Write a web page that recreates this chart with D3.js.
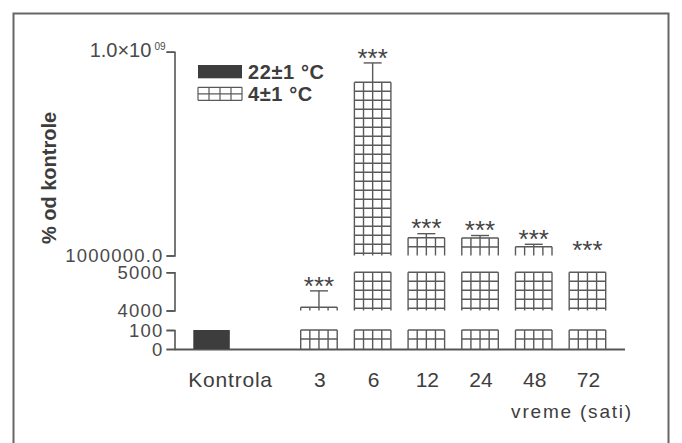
<!DOCTYPE html>
<html>
<head>
<meta charset="utf-8">
<script src="https://cdn.jsdelivr.net/npm/d3@7"></script>
<style>
  html, body { margin: 0; padding: 0; background: #fff; }
  svg { display: block; }
  text { font-family: "Liberation Sans", Arial, Helvetica, sans-serif; fill: #3d3d3d; }
</style>
</head>
<body>
<svg id="chart" width="682" height="443"></svg>
<script>
// Groups along the x axis (hours of cold exposure) and their values (% of control)
const categories = ["Kontrola", "3", "6", "12", "24", "48", "72"];
const groupOf    = ["warm", "cold", "cold", "cold", "cold", "cold", "cold"];
const means      = [100, 4084, 8.5e8, 8.8e7, 8.7e7, 4.4e7, 1.5e6];
const sems       = [0, 430, 9.5e7, 2.0e7, 1.2e7, 1.2e7, 0];
const stars      = ["", "***", "***", "***", "***", "***", "***"];

// Broken y axis: three stacked pieces
const segmentDomains = [[0, 100], [4000, 5000], [1e6, 1e9]];
const segmentTickLabels = [["0", "100"], ["4000", "5000"], ["1000000.0", "1.0×10|09"]];

const legendLabels = ["22±1 °C", "4±1 °C"];
const yTitle = "% od kontrole";
const xTitle = "vreme (sati)";

const svg = d3.select("#chart");
const ink = "#555";
const dark = "#3d3d3d";

// outer frame
svg.append("rect")
  .attr("x", 13.5).attr("y", 13.5).attr("width", 655).attr("height", 445)
  .attr("fill", "none").attr("stroke", "#666").attr("stroke-width", 2);

const axisX = 174.5;
const segmentRanges = [[349, 330], [310.5, 272.3], [255.5, 51.7]];
const yScales = segmentDomains.map((d, i) => d3.scaleLinear().domain(d).range(segmentRanges[i]));

// which piece a value falls into
function segOf(v) {
  for (let i = segmentDomains.length - 1; i >= 0; i--) if (v >= segmentDomains[i][0]) return i;
  return 0;
}

// x positions: one empty slot between the control and the first time point
const slotKeys = [categories[0], "gap", ...categories.slice(1)];
const x = d3.scaleBand().domain(slotKeys).range([193.3, 605.7]).paddingInner(0.32).paddingOuter(0);
const bw = x.bandwidth();

// y axis pieces
yScales.forEach((s, i) => {
  const labels = segmentTickLabels[i];
  const ax = d3.axisLeft(s).tickValues(segmentDomains[i]).tickSizeOuter(0).tickSize(8).tickFormat(() => "");
  const g = svg.append("g").attr("transform", `translate(${axisX},0)`).call(ax);
  g.select(".domain").attr("stroke", ink).attr("stroke-width", 1.6);
  g.selectAll(".tick line").attr("stroke", ink).attr("stroke-width", 1.6);
  g.selectAll(".tick").each(function(d, j) {
    const parts = labels[j].split("|");
    const t = d3.select(this).append("text")
      .attr("x", parts[1] ? -9 : -11).attr("dy", parts[1] ? "0.25em" : "0.35em")
      .attr("text-anchor", "end")
      .attr("font-size", parts[1] ? 20 : 18.5)
      .attr("letter-spacing", parts[1] ? 0 : 1.2)
      .style("fill", "#4a4a4a");
    t.append("tspan").text(parts[0]);
    if (parts[1]) {
      t.append("tspan").attr("font-size", 10).attr("dy", "-0.7em").attr("dx", 3).text(parts[1]);
    }
  });
});

// x axis baseline
svg.append("line")
  .attr("x1", axisX).attr("x2", 625).attr("y1", 349.5).attr("y2", 349.5)
  .attr("stroke", ink).attr("stroke-width", 1.8);

// grid-hatched bar piece
function hatch(g, x0, w, yTop, yBot, cell) {
  for (let k = 0; k <= 4; k++) {
    const xx = x0 + k * w / 4;
    g.append("line").attr("x1", xx).attr("x2", xx).attr("y1", yTop).attr("y2", yBot);
  }
  for (let yy = yTop; yy < yBot - 1.5; yy += cell) {
    g.append("line").attr("x1", x0).attr("x2", x0 + w).attr("y1", yy).attr("y2", yy);
  }
}

const bars = svg.append("g");
categories.forEach((c, i) => {
  const x0 = x(c);
  const v = means[i];
  if (groupOf[i] === "warm") {
    bars.append("rect")
      .attr("x", x0).attr("y", yScales[0](Math.min(v, 100)))
      .attr("width", bw).attr("height", 349 - yScales[0](Math.min(v, 100)))
      .attr("fill", dark);
    return;
  }
  const g = bars.append("g").attr("stroke", "#5a5a5a").attr("stroke-width", 1.4).attr("fill", "none");
  segmentDomains.forEach((d, s) => {
    if (v <= d[0]) return;
    const top = Math.min(v, d[1]);
    hatch(g, x0, bw, yScales[s](top), yScales[s](d[0]), 9);
  });
  // upward error bar + significance
  const s = segOf(v);
  const cx = x0 + bw / 2;
  const yTop = yScales[s](v);
  const yErr = yScales[s](v + sems[i]);
  if (sems[i] > 0) {
    g.append("line").attr("x1", cx).attr("x2", cx).attr("y1", yTop).attr("y2", yErr);
    g.append("line").attr("x1", cx - 9).attr("x2", cx + 9).attr("y1", yErr).attr("y2", yErr);
  }
  if (stars[i]) {
    const fs = 26;
    svg.append("text")
      .attr("x", cx).attr("y", yErr - 11 + 0.57 * fs)
      .attr("text-anchor", "middle").attr("font-size", fs)
      .style("fill", "#444")
      .text(stars[i]);
  }
});

// x tick labels
categories.forEach((c, i) => {
  svg.append("text")
    .attr("x", x(c) + bw / 2 + (i === 0 ? 19 : 1))
    .attr("y", 387)
    .attr("text-anchor", "middle")
    .attr("font-size", 21)
    .attr("letter-spacing", i === 0 ? 0.8 : 0)
    .text(c);
});

// x axis title
svg.append("text")
  .attr("x", 633).attr("y", 418)
  .attr("text-anchor", "end")
  .attr("font-size", 19)
  .attr("letter-spacing", 1.8)
  .text(xTitle);

// y axis title
svg.append("text")
  .attr("transform", "translate(56,178) rotate(-90)")
  .attr("text-anchor", "middle")
  .attr("font-size", 20)
  .attr("font-weight", "bold")
  .text(yTitle);

// legend
const legend = svg.append("g");
legendLabels.forEach((lab, i) => {
  const ly = 65 + i * 22.3;
  if (i === 0) {
    legend.append("rect").attr("x", 198).attr("y", ly).attr("width", 44).attr("height", 13.3).attr("fill", dark);
  } else {
    const g = legend.append("g").attr("stroke", "#5a5a5a").attr("stroke-width", 1.2).attr("fill", "none");
    hatch(g, 198, 44, ly, ly + 13, 6.5);
    g.append("line").attr("x1", 198).attr("x2", 242).attr("y1", ly + 13).attr("y2", ly + 13);
  }
  legend.append("text")
    .attr("x", 248).attr("y", ly + 14)
    .attr("font-size", 20).attr("font-weight", "bold")
    .attr("letter-spacing", 0.6)
    .text(lab);
});
</script>
</body>
</html>
